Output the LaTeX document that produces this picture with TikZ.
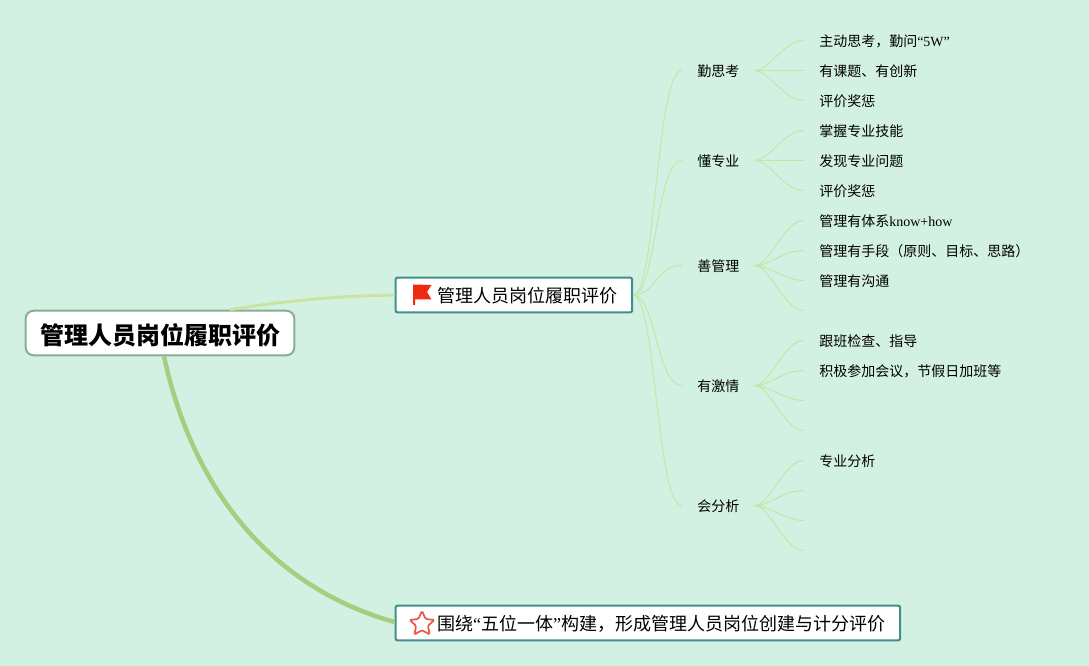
\documentclass[tikz,border=0pt]{standalone}
\usepackage{fontspec}
\setmainfont{Noto Sans CJK SC}
\newfontfamily\westfont{Liberation Serif}
\usetikzlibrary{shapes.geometric}

\definecolor{paper}{HTML}{D3F1E2}
\definecolor{rootline}{HTML}{84AF90}
\definecolor{boxline}{HTML}{3F8F8C}
\definecolor{trunkone}{HTML}{C8E4A0}
\definecolor{trunktwo}{HTML}{A8CC80}
\definecolor{twig}{HTML}{C2E8A6}
\definecolor{flagred}{HTML}{F02A10}
\definecolor{starred}{HTML}{EA5A45}

\tikzset{
  rootbox/.style={draw=rootline,line width=1.5pt,fill=white,rounded corners=6pt,
    minimum width=201.5pt,minimum height=33.5pt,inner sep=0pt,font=\fontsize{18pt}{20pt}\bfseries},
  branchbox/.style={draw=boxline,line width=1.5pt,fill=white,rounded corners=1.5pt,
    minimum height=26pt,inner xsep=11.25pt,inner ysep=0pt,anchor=west,font=\fontsize{13.5pt}{16pt}\selectfont},
  midtext/.style={inner xsep=11.25pt,inner ysep=0pt,anchor=west,font=\fontsize{10.5pt}{12pt}\selectfont},
  leaftext/.style={midtext},
  twigline/.style={draw=twig,line width=0.75pt}
}

\begin{document}
\begin{tikzpicture}[x=0.75pt,y=-0.75pt]

  %% the page
  \fill[paper] (0,0) rectangle (1089,666);
  \useasboundingbox (0,0) rectangle (1089,666);

  %% root and the two boxes
  \node[rootbox] (root) at (160,333) {\raisebox{-1.5pt}[\height][\depth]{管理人员岗位履职评价}};
  \node[branchbox,minimum width=176.5pt] (duty) at (394.5,295)
       {\hspace*{20pt}\raisebox{-0.75pt}[\height][\depth]{管理人员岗位履职评价}\hfill};
  \node[branchbox,minimum width=377.5pt] (build) at (394.5,623)
       {\hspace*{20pt}\raisebox{-0.75pt}[\height][\depth]{围绕{\westfont “}五位一体{\westfont ”}构建，形成管理人员岗位创建与计分评价}\hfill};

  %% flag and star in the boxes
  \fill[flagred] (413,284.5) -- (431.5,285) -- (427,292) -- (431.5,299.5)
       -- (415,299.5) -- (415,305) -- (413,305) -- cycle;
  \node[star,star points=5,star point ratio=2.1,draw=starred,line width=1.3pt,
        rounded corners=1pt,minimum size=19.5pt,inner sep=0pt] (mark) at (422,624) {};

  %% the two thick branches
  \draw[trunkone,line width=2.2pt] ([xshift=52.5pt]root.north)
       .. controls (290,300) and (340,296) .. (duty.west);
  \draw[trunktwo,line width=3.4pt] ([xshift=3pt]root.south)
       .. controls (195,500) and (280,590) .. ([yshift=0.75pt]build.west);

  %% second level
  \foreach \myname/\myy/\mytext in {think/71/勤思考,know/161/懂专业,lead/266/善管理,
                                    zeal/386/有激情,study/506/会分析}
  {
    \node[midtext] (\myname) at (682,\myy) {\mytext};
    \draw[twigline] (duty.east) .. controls (656,295) and (656,\myy-1) .. ([yshift=0.375pt]\myname.west);
  }

  %% leaves with text
  \foreach \myn/\myy/\mytext in {
      1/41/{主动思考，勤问{\westfont “5W”}},2/71/有课题、有创新,3/101/评价奖惩,
      4/131/掌握专业技能,5/161/发现专业问题,6/191/评价奖惩,
      7/221/{管理有体系{\westfont know+how}},8/251/{管理有手段（原则、目标、思路）},9/281/管理有沟通,
      11/341/跟班检查、指导,12/371/{积极参加会议，节假日加班等},
      15/461/专业分析}
  {
    \node[leaftext] (leaf/\myn) at (804,\myy) {\mytext};
  }

  %% leaves with no text
  \foreach \myn/\myy in {10/311,13/401,14/431,16/491,17/521,18/551}
  {
    \coordinate (leaf/\myn) at (804,\myy);
  }

  %% twigs from second level to leaves
  \foreach \myname/\myleaves in {think/{1,2,3},know/{4,5,6},lead/{7,8,9,10},
                                 zeal/{11,12,13,14},study/{15,16,17,18}}
  {
    \foreach \myn in \myleaves
    {
      \draw[twigline] ([yshift=0.375pt]\myname.east) .. controls +(15,0) and ([xshift=-15pt,yshift=0.375pt]leaf/\myn.west)
           .. ([yshift=0.375pt]leaf/\myn.west);
    }
  }

\end{tikzpicture}
\end{document}
